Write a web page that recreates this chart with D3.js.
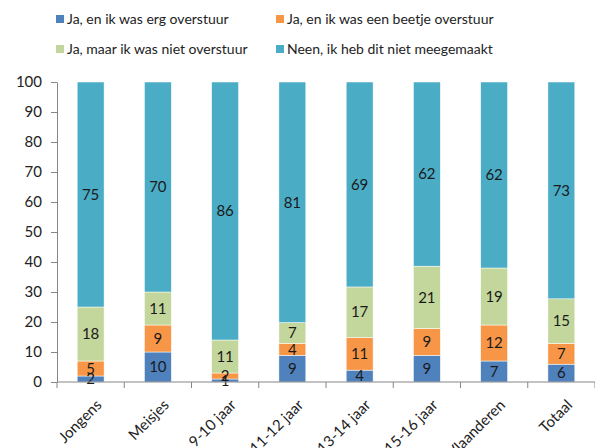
<!DOCTYPE html>
<html>
<head>
<meta charset="utf-8">
<script src="https://cdn.jsdelivr.net/npm/d3@7"></script>
<style>
  body { margin: 0; background: #fff; }
  text { font-family: Lato, "Open Sans", sans-serif; }
</style>
</head>
<body>
<div id="mount"></div>
<script>
'use strict';

// categories along the x axis
const categories = ['Jongens', 'Meisjes', '9-10 jaar', '11-12 jaar', '13-14 jaar', '15-16 jaar', 'Vlaanderen', 'Totaal'];

// series, bottom to top
const seriesNames = [
  'Ja, en ik was erg overstuur',
  'Ja, en ik was een beetje overstuur',
  'Ja, maar ik was niet overstuur',
  'Neen, ik heb dit niet meegemaakt'
];
const ergOverstuur    = [2, 10, 1, 9, 4, 9, 7, 6];
const beetjeOverstuur = [5, 9, 2, 4, 11, 9, 12, 7];
const nietOverstuur   = [18, 11, 11, 7, 17, 21, 19, 15];
const nietMeegemaakt  = [75, 70, 86, 81, 69, 62, 62, 73];
const yTicks = [0, 10, 20, 30, 40, 50, 60, 70, 80, 90, 100];

const colors = ['#4f81bd', '#f79646', '#c3d69b', '#4bacc6'];

const rows = categories.map((c, i) => ({
  cat: c,
  s0: ergOverstuur[i], s1: beetjeOverstuur[i], s2: nietOverstuur[i], s3: nietMeegemaakt[i]
}));
const keys = ['s0', 's1', 's2', 's3'];

// 100% stacked columns
const stacked = d3.stack().keys(keys).offset(d3.stackOffsetExpand)(rows);

const margin = { top: 82, left: 57, bottom: 66, right: 0 },
      width = 595 - margin.left - margin.right,
      height = 448 - margin.top - margin.bottom;

const svg = d3.select('#mount').append('svg')
    .attr('width', 595)
    .attr('height', 448);

const graph = svg.append('g')
    .attr('transform', `translate(${margin.left}, ${margin.top})`);

const x = d3.scaleBand().domain(categories).range([0, width]).paddingInner(0.6).paddingOuter(0.3);
const y = d3.scaleLinear().domain([0, 100]).range([height, 0]);

// y axis
const yAxis = graph.append('g')
    .call(d3.axisLeft(y).tickValues(yTicks).tickSize(6).tickSizeOuter(0).tickPadding(9));
yAxis.select('.domain').attr('stroke', '#868686');
yAxis.selectAll('.tick line').attr('stroke', '#868686');
yAxis.selectAll('.tick text').attr('fill', '#222').style('font-size', '15px');

// bars
const layer = graph.selectAll('.layer')
  .data(stacked)
  .join('g')
    .attr('class', 'layer')
    .attr('fill', (d, i) => colors[i]);

layer.selectAll('rect')
  .data(d => d)
  .join('rect')
    .attr('x', d => x(d.data.cat))
    .attr('width', x.bandwidth())
    .attr('y', d => y(d[1] * 100))
    .attr('height', d => y(d[0] * 100) - y(d[1] * 100))
    .attr('stroke', '#ffffff')
    .attr('stroke-width', 0.5);

// value labels
stacked.forEach((s, si) => {
  graph.append('g').selectAll('text')
    .data(s)
    .join('text')
      .attr('x', d => x(d.data.cat) + x.bandwidth() / 2)
      .attr('y', d => y((d[0] + d[1]) / 2 * 100))
      .attr('dy', '0.35em')
      .attr('text-anchor', 'middle')
      .attr('fill', '#1a1a1a')
      .style('font-size', '15px')
      .text(d => d.data[keys[si]]);
});

// x axis with ticks between categories
const xAxisG = graph.append('g').attr('transform', `translate(0, ${height})`);
xAxisG.append('line')
    .attr('x1', 0).attr('x2', width)
    .attr('stroke', '#868686');
const step = x.step();
xAxisG.selectAll('.sep')
  .data(d3.range(categories.length + 1))
  .join('line')
    .attr('x1', i => i * step).attr('x2', i => i * step)
    .attr('y1', 0).attr('y2', 6)
    .attr('stroke', '#868686');
xAxisG.selectAll('.cat')
  .data(categories)
  .join('text')
    .attr('transform', d => `translate(${x(d) + x.bandwidth() / 2 + 4}, 16) rotate(-45)`)
    .attr('text-anchor', 'end')
    .attr('dy', '0.75em')
    .attr('fill', '#222')
    .style('font-size', '15px')
    .text(d => d);

// legend, two columns
const legend = svg.append('g');
const legendItems = legend.selectAll('g')
  .data(seriesNames)
  .join('g')
    .attr('transform', (d, i) => `translate(${i % 2 === 0 ? 56 : 276}, ${i < 2 ? 19 : 49})`);
legendItems.append('rect')
    .attr('x', 0).attr('y', -4)
    .attr('width', 8).attr('height', 8)
    .attr('fill', (d, i) => colors[i]);
legendItems.append('text')
    .attr('x', 11)
    .attr('dy', '0.35em')
    .attr('fill', '#222')
    .style('font-size', '14px')
    .text(d => d);
</script>
</body>
</html>
